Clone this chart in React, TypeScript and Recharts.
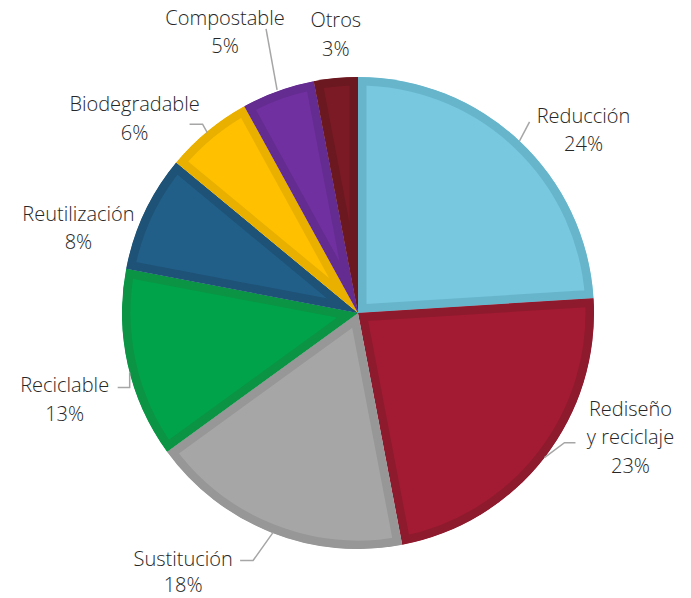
import React from "react";
import { PieChart, Pie, Cell, Sector } from "recharts";

if (typeof document !== "undefined") document.body.style.margin = "0";

const categories = [
  "Reducción",
  "Rediseño y reciclaje",
  "Sustitución",
  "Reciclable",
  "Reutilización",
  "Biodegradable",
  "Compostable",
  "Otros",
];
const values = [24, 23, 18, 13, 8, 6, 5, 3];
const labelLines = [
  ["Reducción"],
  ["Rediseño", "y reciclaje"],
  ["Sustitución"],
  ["Reciclable"],
  ["Reutilización"],
  ["Biodegradable"],
  ["Compostable"],
  ["Otros"],
];
const fillColors = ["#78C8E0", "#A21B32", "#A6A6A6", "#00A34A", "#215E88", "#FFC000", "#7030A0", "#7B1A24"];
const borderColors = ["#67B5CB", "#8E1A2E", "#979797", "#0A9444", "#1E5276", "#E9B000", "#642C90", "#6B1820"];

// label layout: offsets from the slice's outer edge point at its mid angle
const labelLayout = [
  { dx: 64, dy: -26, leader: [[0, 0], [10, -19]] },
  { dx: 86, dy: -50, leader: [[0, 0], [20, -15], [31, -15]] },
  { dx: -88, dy: 26, leader: [[2, 0], [-18, 28], [-31, 28]], lh: 26 },
  { dx: -63, dy: 20, leader: [[2, 8], [2, 23], [-10, 23]] },
  { dx: -66, dy: 0, leader: [] },
  { dx: -73, dy: -28, leader: [[0, 2], [-5, -7], [-18, -7]] },
  { dx: -53, dy: -74, leader: [[-1, -1], [-12, -62]] },
  { dx: 0, dy: -59, leader: [] },
];

const data = categories.map((name, i) => ({ name, value: values[i] }));

const RAD = Math.PI / 180;
const LINE_H = 28.5;

const InsetSector = (props: any) => {
  const { cx, cy, innerRadius, outerRadius, startAngle, endAngle, fill, stroke } = props;
  const id = `clip-${Math.round(startAngle * 1000)}-${Math.round(endAngle * 1000)}`.replace(/-/g, "m");
  const geom = { cx, cy, innerRadius, outerRadius, startAngle, endAngle };
  return (
    <g>
      <defs>
        <clipPath id={id}>
          <Sector {...geom} />
        </clipPath>
      </defs>
      <Sector {...geom} fill={fill} stroke={stroke} strokeWidth={17} clipPath={`url(#${id})`} />
    </g>
  );
};

const renderLabel = (props: any) => {
  const { cx, cy, midAngle, outerRadius, index } = props;
  const ex = cx + outerRadius * Math.cos(-midAngle * RAD);
  const ey = cy + outerRadius * Math.sin(-midAngle * RAD);
  const lay: any = labelLayout[index];
  const lh = lay.lh ?? LINE_H;
  const lines = [...labelLines[index], `${values[index]}%`];
  const pts = lay.leader.map(([x, y]: number[]) => `${ex + x},${ey + y}`).join(" ");
  return (
    <g key={`lbl-${index}`}>
      {lay.leader.length > 0 && (
        <polyline points={pts} fill="none" stroke="#A6A6A6" strokeWidth={1.5} />
      )}
      <text
        x={ex + lay.dx}
        y={ey + lay.dy}
        textAnchor="middle"
        dominantBaseline="central"
        fill="#262626"
        fontFamily="'Open Sans', 'Noto Sans', sans-serif"
        fontWeight={300}
        fontSize={20}
      >
        {lines.map((l, k) => (
          <tspan key={k} x={ex + lay.dx} dy={k === 0 ? 0 : lh}>
            {l}
          </tspan>
        ))}
      </text>
    </g>
  );
};

export default function App() {
  return (
    <div style={{ width: 691, height: 598, background: "#fff" }}>
      <PieChart width={691} height={598} margin={{ top: 0, right: 0, bottom: 0, left: 0 }}>
        <Pie
          data={data}
          dataKey="value"
          nameKey="name"
          cx={358}
          cy={313}
          innerRadius={0}
          outerRadius={236}
          startAngle={90}
          endAngle={-270}
          stroke="none"
          isAnimationActive={false}
          label={renderLabel}
          labelLine={false}
          shape={InsetSector}
          activeShape={InsetSector}
          inactiveShape={InsetSector}
        >
          {data.map((d, i) => (
            <Cell key={d.name} fill={fillColors[i]} stroke={borderColors[i]} />
          ))}
        </Pie>
      </PieChart>
    </div>
  );
}
